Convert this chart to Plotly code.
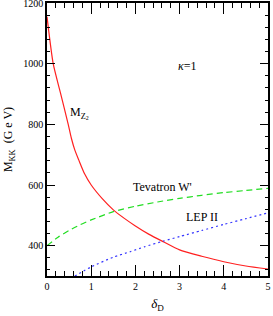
import plotly.graph_objects as go

# M_Z2 curve
mz2_x = [0, 0.14, 0.3, 0.48, 0.55, 0.63, 0.72, 0.85, 1.0, 1.25, 1.5, 1.75, 2.0, 2.3, 2.63, 3.0, 3.5, 4.0, 4.5, 5.0]
mz2_y = [1155, 1000, 906, 800, 755, 715, 682, 637, 600, 555, 518, 490, 465, 438, 413, 386, 365, 347, 333, 323]

# Tevatron W' curve
tev_x = [0, 0.25, 0.5, 0.75, 1.0, 1.5, 2.0, 2.5, 3.0, 3.5, 4.0, 4.5, 5.0]
tev_y = [400, 428, 450, 469, 485, 512, 530, 544, 556, 566, 575, 582, 589]

# LEP II curve
lep_x = [0.63, 1.0, 1.5, 1.88, 2.2, 2.63, 3.0, 3.5, 4.0, 4.5, 5.0]
lep_y = [300, 330, 362, 380, 396, 415, 430, 450, 470, 489, 508]

fig = go.Figure()
fig.add_trace(go.Scatter(x=mz2_x, y=mz2_y, mode="lines", line=dict(color="#ff2020", width=1.2, shape="spline", smoothing=0.6)))
fig.add_trace(go.Scatter(x=tev_x, y=tev_y, mode="lines", line=dict(color="#22dd22", width=1.2, dash="6px,4px", shape="spline", smoothing=0.6)))
fig.add_trace(go.Scatter(x=lep_x, y=lep_y, mode="lines", line=dict(color="#3333ff", width=1.2, dash="2px,3px", shape="spline", smoothing=0.6)))

fig.update_layout(
    width=273, height=316,
    margin=dict(l=47, r=5, t=3, b=40, autoexpand=False),
    paper_bgcolor="white", plot_bgcolor="white",
    showlegend=False,
    font=dict(family="Liberation Serif", size=10, color="black"),
    xaxis=dict(range=[0, 5], tickvals=[0, 1, 2, 3, 4, 5], ticks="inside", ticklen=11, tickwidth=1,
               tickcolor="black", showline=True, linecolor="black", linewidth=1.5, mirror="allticks",
               showgrid=False, zeroline=False, tickfont=dict(size=10), automargin=False,
               ticklabeloverflow="allow",
               minor=dict(dtick=0.2, ticks="inside", ticklen=5, tickcolor="black", tickwidth=1, showgrid=False),
               title=dict(text="<i>δ</i><sub>D</sub>", font=dict(size=13), standoff=8)),
    yaxis=dict(range=[300, 1200], tickvals=[400, 600, 800, 1000, 1200], ticks="inside", ticklen=8, tickwidth=1,
               tickcolor="black", showline=True, linecolor="black", linewidth=1.5, mirror="allticks",
               showgrid=False, zeroline=False, tickfont=dict(size=10), automargin=False,
               ticklabeloverflow="allow",
               minor=dict(dtick=40, tick0=0, ticks="inside", ticklen=3, tickcolor="black", tickwidth=1, showgrid=False),
               title=dict(text="M<sub>KK</sub>  (G e V)", font=dict(size=12), standoff=8)),
)

fig.add_annotation(x=0.47, y=836, xref="x", yref="y", text="M<sub>Z<sub>2</sub></sub>", showarrow=False,
                   font=dict(size=12, family="Liberation Serif"), xanchor="left")
fig.add_annotation(x=3.17, y=992, xref="x", yref="y", text="<i>κ</i>=1", showarrow=False,
                   font=dict(size=12, family="Liberation Serif"))
fig.add_annotation(x=2.62, y=592, xref="x", yref="y", text="Tevatron W'", showarrow=False,
                   font=dict(size=12, family="Liberation Serif"))
fig.add_annotation(x=3.5, y=496, xref="x", yref="y", text="LEP II", showarrow=False,
                   font=dict(size=12, family="Liberation Serif"))

fig.write_html("out.html", config={"displayModeBar": False},
               post_script="document.body.style.margin='0';document.body.style.overflow='hidden';")
